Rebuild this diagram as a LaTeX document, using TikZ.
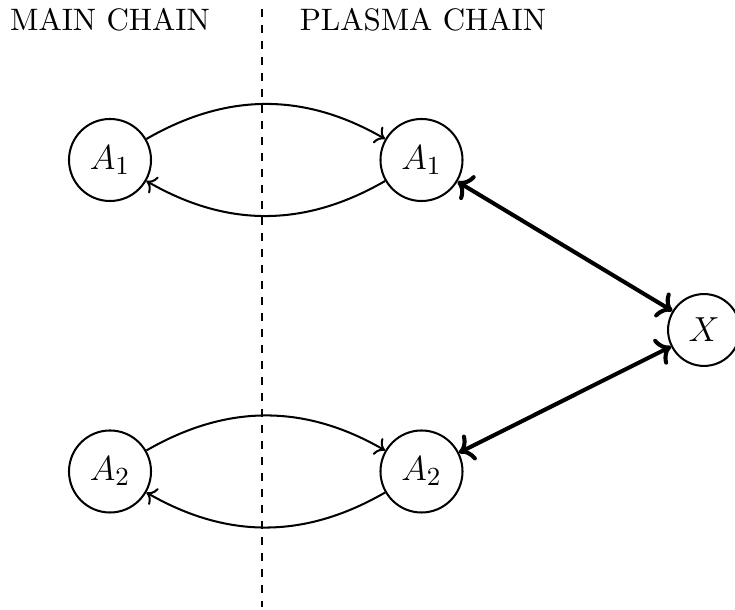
\documentclass[tikz,border=0pt]{standalone}
\usetikzlibrary{arrows.meta}
\begin{document}
\begin{tikzpicture}[x=0.345pt,y=-0.345pt,
  state/.style={circle,draw,line width=0.7pt,minimum size=28.3pt,inner sep=0pt,font=\fontsize{13}{15}\selectfont},
  xstate/.style={circle,draw,line width=0.7pt,minimum size=24.8pt,inner sep=0pt,font=\fontsize{13}{15}\selectfont},
  thinarr/.style={->,line width=0.7pt},
  thickarr/.style={<->,line width=1.4pt},
  divider/.style={line width=0.8pt,dash pattern=on 2.76pt off 2.76pt},
  lbl/.style={anchor=base,font=\fontsize{10.7}{13}\selectfont,inner sep=0pt}]
\useasboundingbox (0,0) rectangle (735,610);
\node[state] (a1) at (110,160) {$A_1$};
\node[state] (b1) at (421.5,160) {$A_1$};
\node[state] (a2) at (110,471.5) {$A_2$};
\node[state] (b2) at (421.5,471.5) {$A_2$};
\node[xstate] (x) at (704,330) {$X$};
\coordinate (top) at (262,9);
\coordinate (bot) at (262,607);
\draw[divider] (top) -- (bot);
\node[lbl] (main) at (110,30.7) {MAIN CHAIN};
\node[lbl] (plasma) at (423,30.7) {PLASMA CHAIN};
\draw[thinarr] (a1) to[bend left=30] (b1);
\draw[thinarr] (b1) to[bend left=30] (a1);
\draw[thinarr] (a2) to[bend left=30] (b2);
\draw[thinarr] (b2) to[bend left=30] (a2);
\draw[thickarr] (b1) -- (x);
\draw[thickarr] (b2) -- (x);
\end{tikzpicture}
\end{document}
